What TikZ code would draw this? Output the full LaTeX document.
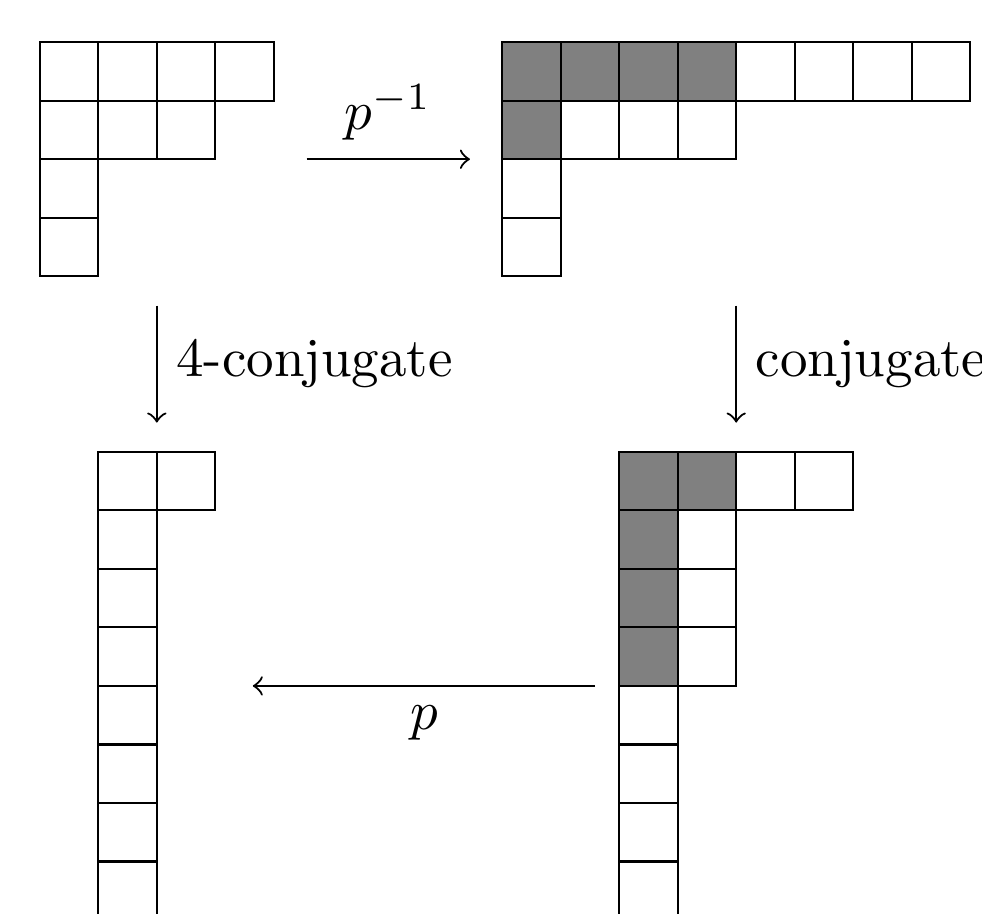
\documentclass[tikz,border=0pt]{standalone}
\usepackage{amsmath}
\usepackage{amssymb}
\usetikzlibrary{positioning,arrows}
\tikzstyle{cell}=[draw, minimum size=0.374cm, inner sep=0pt, outer sep=0pt]
\tikzstyle{scell}=[cell, fill=gray]

\begin{document}
\begin{tikzpicture}[x=0.374cm,y=0.374cm,auto,>=to]
\useasboundingbox (-0.68,0.72) rectangle (16.10,-14.89);

% lambda (top left)
\foreach \r/\n in {1/4,2/3,3/1,4/1}
  \foreach \c in {1,...,\n}
    \node[cell] (a-\r-\c) at (\c-0.5,0.5-\r) {};

% p^{-1}(lambda) (top right)
\foreach \r/\n in {1/8,2/4,3/1,4/1}
  \foreach \c in {1,...,\n}
    \node[cell] (b-\r-\c) at (7.4+\c,0.5-\r) {};
\foreach \r/\c in {1/1,1/2,1/3,1/4,2/1}
    \node[scell] (bs-\r-\c) at (7.4+\c,0.5-\r) {};

% 4-conjugate (bottom left)
\foreach \r/\n in {1/2,2/1,3/1,4/1,5/1,6/1,7/1,8/1}
  \foreach \c in {1,...,\n}
    \node[cell] (c-\r-\c) at (0.5+\c,-6.5-\r) {};

% conjugate (bottom right)
\foreach \r/\n in {1/4,2/2,3/2,4/2,5/1,6/1,7/1,8/1}
  \foreach \c in {1,...,\n}
    \node[cell] (d-\r-\c) at (9.4+\c,-6.5-\r) {};
\foreach \r/\c in {1/1,1/2,2/1,3/1,4/1}
    \node[scell] (ds-\r-\c) at (9.4+\c,-6.5-\r) {};

% arrows
\coordinate (ab1) at (4.56,-2);
\coordinate (ab2) at (7.35,-2);
\draw[->] (ab1) -- node[above] (pinv) {$p^{-1}$} (ab2);

\coordinate (ac1) at (2,-4.5);
\coordinate (ac2) at (2,-6.5);
\draw[->] (ac1) -- node[right] (conj4) {4-conjugate} (ac2);

\coordinate (bd1) at (11.9,-4.5);
\coordinate (bd2) at (11.9,-6.5);
\draw[->] (bd1) -- node[right] (conj) {conjugate} (bd2);

\coordinate (dc1) at (9.49,-11);
\coordinate (dc2) at (3.64,-11);
\draw[->] (dc1) -- node[below] (pmap) {$p$} (dc2);
\end{tikzpicture}
\end{document}
